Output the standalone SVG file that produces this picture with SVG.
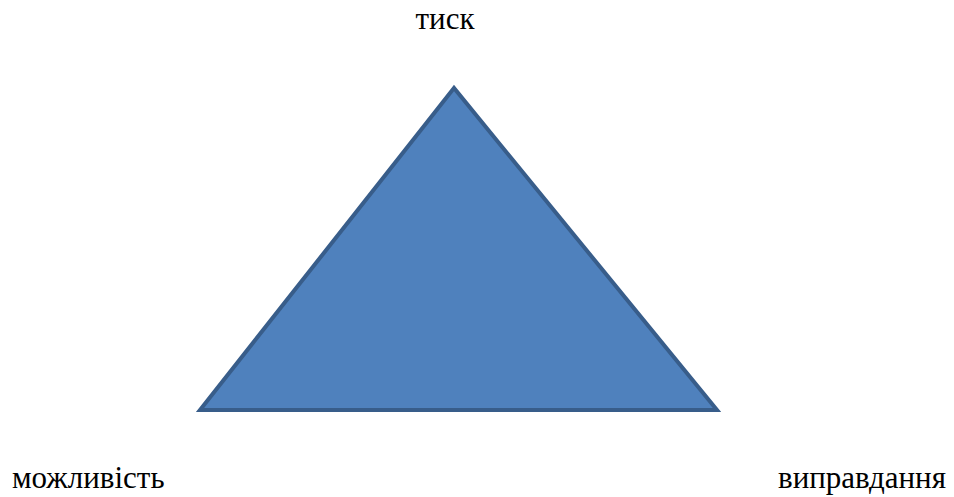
<svg xmlns="http://www.w3.org/2000/svg" width="954" height="497" viewBox="0 0 954 497">
<style>
.lbl{font-family:"Liberation Serif","Times New Roman",serif;font-size:31px;fill:#000}
.tri{fill:#4f81bd;stroke:#385d8a;stroke-width:4;stroke-linejoin:miter}
</style>
<rect width="954" height="497" fill="#fff"/>
<g id="triangle">
<polygon class="tri" points="454,88 200,410 717,410"/>
</g>
<g id="label-top"><text class="lbl" x="445" y="29" text-anchor="middle">тиск</text></g>
<g id="label-left"><text class="lbl" x="12" y="488">можливість</text></g>
<g id="label-right"><text class="lbl" x="778" y="488">виправдання</text></g>
</svg>
